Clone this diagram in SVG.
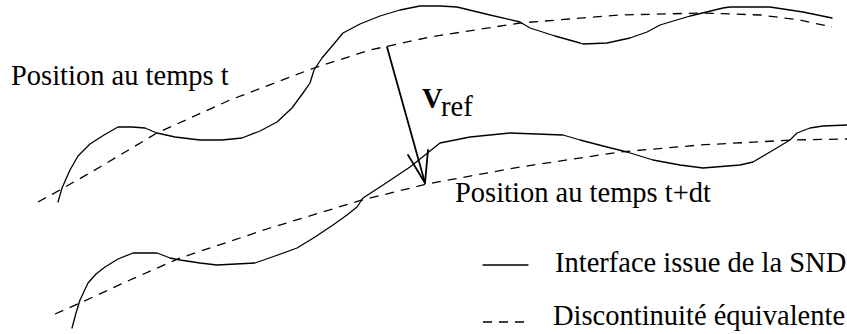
<svg xmlns="http://www.w3.org/2000/svg" width="847" height="334" viewBox="0 0 847 334">
<style>
.t{font-family:"Liberation Serif","Times New Roman",serif;font-size:28.5px;fill:#000}
.s{fill:none;stroke:#000;stroke-width:1.3;stroke-linejoin:round;stroke-linecap:round}
.d{fill:none;stroke:#000;stroke-width:1.3;stroke-dasharray:9 7}
.a{fill:none;stroke:#000;stroke-width:1.8;stroke-linecap:round;stroke-linejoin:round}
</style>
<rect width="847" height="334" fill="#fff"/>
<g id="interface-t">
<polyline class="s" points="58,202 62,188 70,170 78,156 90,144 104,135 118,127 132,127 145,128 152,131 157,133 175,137 200,140 222,140 242,138 260,131 277,122 292,108 303,93 310,83 314,70 322,58 333,45 343,33 360,24 380,16 400,10 420,6 440,6 457,7 490,15 520,22 530,28 555,36 580,43 583,44 607,43 630,38 647,32 660,25 690,16 723,8 730,7 770,7 803,12 832,18"/>
<polyline class="d" points="38,202 60,190 100,167 157,133 230,100 314,68 370,50 430,37 520,23 620,15 703,13 760,15 800,20 832,27"/>
</g>
<g id="interface-tdt">
<polyline class="s" points="72,328 76,313 80,300 88,283 96,274 105,267 118,259 133,253 157,253 165,256 170,258 180,260 200,263 217,265 255,263 275,256 297,248 315,237 333,225 347,215 357,207 363,198 380,187 395,177 410,167 425,155 440,143 470,137 510,133 563,135 580,140 603,146 627,152 653,160 680,165 703,168 740,165 753,162 770,152 790,140 797,133 810,128 823,126 847,125"/>
<polyline class="d" points="55,314 80,303 130,280 180,258 270,228 362,200 427,184 520,167 620,152 700,145 793,140 847,139"/>
</g>
<g id="connectors">
<line class="a" x1="387" y1="47" x2="425" y2="183"/>
<polyline class="a" points="408,155 425,183 428,150"/>
</g>
<g id="labels">
<text class="t" x="11" y="85">Position au temps t</text>
<text class="t" x="455" y="202">Position au temps t+dt</text>
<text class="t" x="422" y="108" font-weight="bold">V</text>
<text class="t" x="441" y="116">ref</text>
</g>
<g id="legend">
<line class="s" x1="483" y1="265" x2="528" y2="265"/>
<text class="t" x="555" y="272">Interface issue de la SND</text>
<line class="d" x1="483" y1="322" x2="528" y2="322"/>
<text class="t" x="553" y="325">Discontinuité équivalente</text>
</g>
</svg>
